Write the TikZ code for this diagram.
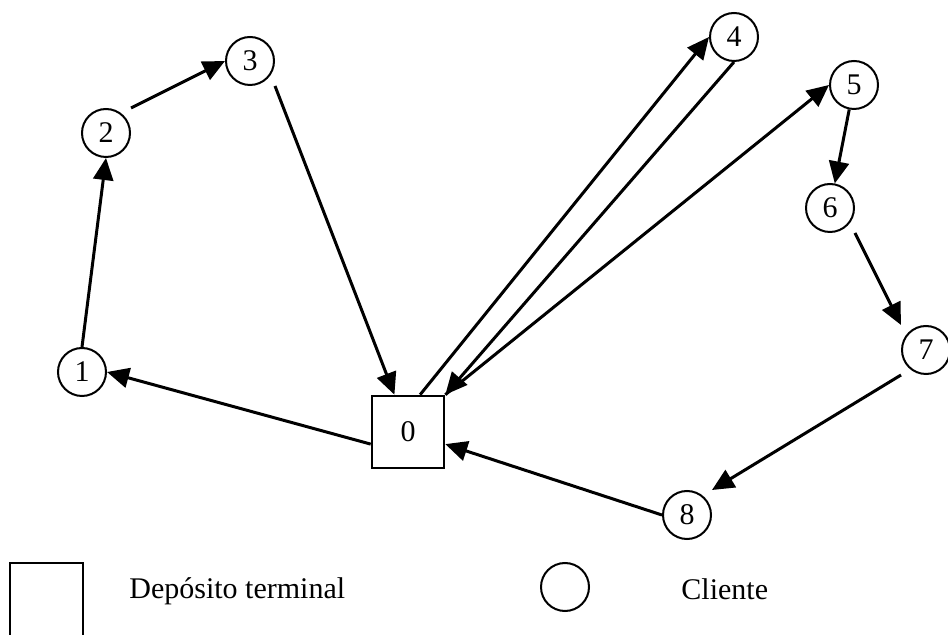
\documentclass[tikz,border=0pt]{standalone}
\usepackage{fontspec}
\setmainfont{Liberation Serif}
\usetikzlibrary{arrows.meta}
\begin{document}
\begin{tikzpicture}[x=0.5pt,y=-0.5pt,
  lbl/.style={font=\fontsize{15}{18}\selectfont},
  client/.style={circle,draw,line width=1pt,minimum size=24pt,inner sep=0pt,lbl},
  depot/.style={rectangle,draw,line width=1.3pt,minimum size=36pt,inner sep=0pt,lbl},
  arr/.style={line width=1.5pt,-{Triangle[length=11pt,width=10pt]}},
  legendtext/.style={anchor=base west,inner sep=0pt,lbl}]
\useasboundingbox (0,0) rectangle (948,635);

% depot and clients
\node[depot]  (n0) at (408,432) {0};
\node[client] (n1) at (82,372)  {1};
\node[client] (n2) at (106,133) {2};
\node[client] (n3) at (250,61)  {3};
\node[client] (n4) at (734,37)  {4};
\node[client] (n5) at (854,85)  {5};
\node[client] (n6) at (830,208) {6};
\node[client] (n7) at (926,350) {7};
\node[client] (n8) at (687,515) {8};

% route 0-1-2-3-0
\draw[arr] (n0.198) -- (n1.east);
\draw[arr] (n1.north) -- (n2.south);
\draw[arr] (n2.north -| n2.east) -- (n3.west);
\draw[arr] (n3.south -| n3.east) -- (n0.110);

% route 0-4-0
\draw[arr] (n0.72) -- (n4.west);
\draw[arr] (n4.south) -- (n0.north east);

% route 0-5-6-7-8-0
\draw[arr] (n0.north east) -- (n5.west);
\draw[arr] (n5) -- (n6);
\draw[arr] (n6.south -| n6.east) -- (n7.north -| n7.west);
\draw[arr] (n7.south -| n7.west) -- (n8.north -| n8.east);
\draw[arr] (n8.west) -- (n0.-18);

% legend
\node[depot,minimum size=36.5pt] (legdepot) at (46.5,599.5) {};
\node[legendtext] (legdepottext) at (129,599) {Depósito terminal};
\node[client] (legclient) at (565,587) {};
\node[legendtext] (legclienttext) at (681,600) {Cliente};
\end{tikzpicture}
\end{document}
